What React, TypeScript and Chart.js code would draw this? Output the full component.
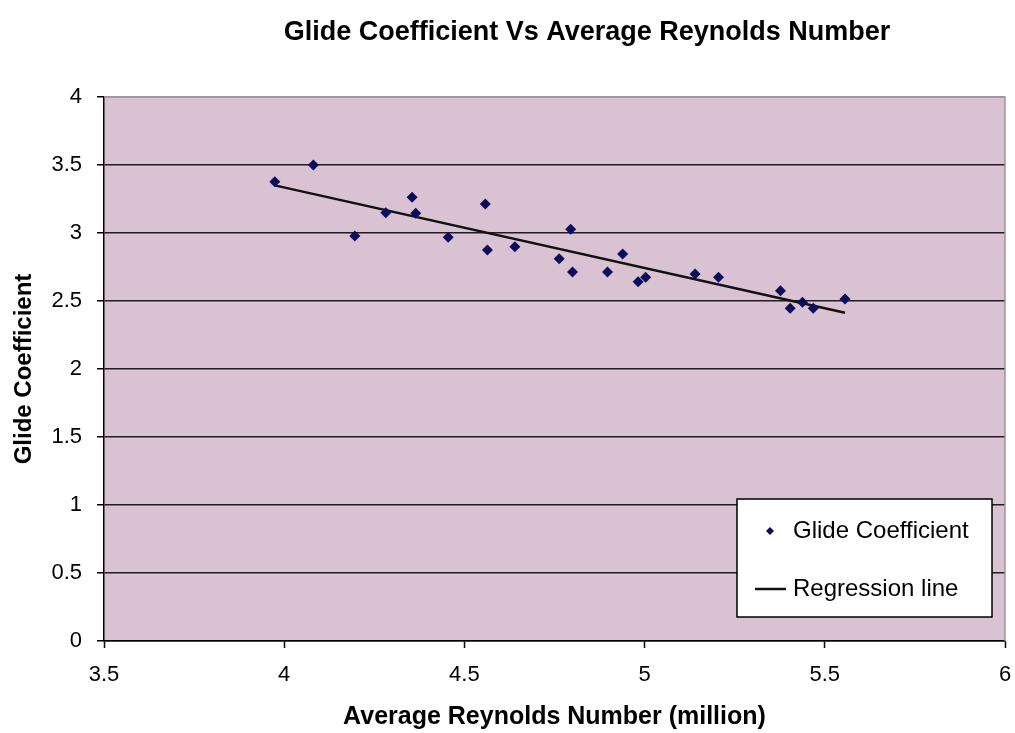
import React, { useEffect, useRef } from "react";
import { Chart, registerables } from "chart.js";

Chart.register(...registerables);

// Measured glide runs: average Reynolds number (million) and glide coefficient
const reynoldsMillion = [
  3.974, 4.081, 4.196, 4.282, 4.355, 4.365, 4.455, 4.558, 4.564, 4.64, 4.763, 4.795,
  4.8, 4.897, 4.939, 4.982, 5.003, 5.14, 5.205, 5.377, 5.404, 5.438, 5.468, 5.556,
];
const glideCoefficient = [
  3.377, 3.5, 2.978, 3.149, 3.262, 3.145, 2.968, 3.213, 2.875, 2.899, 2.811, 3.027,
  2.713, 2.713, 2.846, 2.642, 2.674, 2.699, 2.674, 2.576, 2.446, 2.49, 2.446, 2.515,
];

const xTicks = [3.5, 4, 4.5, 5, 5.5, 6];
const yTicks = [0, 0.5, 1, 1.5, 2, 2.5, 3, 3.5, 4];

const chartTitle = "Glide Coefficient Vs Average Reynolds Number";
const xTitle = "Average Reynolds Number (million)";
const yTitle = "Glide Coefficient";
const pointLabel = "Glide Coefficient";
const lineLabel = "Regression line";

const FONT = "'Liberation Sans', Arial, sans-serif";
const POINT_COLOR = "#0d0d5c";
const LINE_COLOR = "#111111";
const PLOT_FILL = "#d9c2d1";
const GRID_DARK = "#241b20";
const BORDER_GREY = "#9c979a";

// Least-squares fit of glide coefficient against Reynolds number
function regressionEnds(xs: number[], ys: number[]) {
  const n = xs.length;
  const mx = xs.reduce((s, v) => s + v, 0) / n;
  const my = ys.reduce((s, v) => s + v, 0) / n;
  let sxy = 0;
  let sxx = 0;
  for (let i = 0; i < n; i++) {
    sxy += (xs[i] - mx) * (ys[i] - my);
    sxx += (xs[i] - mx) * (xs[i] - mx);
  }
  const slope = sxy / sxx;
  const icpt = my - slope * mx;
  const x0 = Math.min(...xs);
  const x1 = Math.max(...xs);
  return [
    { x: x0, y: icpt + slope * x0 },
    { x: x1, y: icpt + slope * x1 },
  ];
}

const plotDecor = {
  id: "plotDecor",
  beforeDraw(chart: any) {
    const { ctx, chartArea: a } = chart;
    ctx.save();
    ctx.fillStyle = "#ffffff";
    ctx.fillRect(0, 0, chart.width, chart.height);
    ctx.fillStyle = PLOT_FILL;
    ctx.fillRect(a.left, a.top, a.right - a.left, a.bottom - a.top);
    ctx.restore();
  },
  beforeDatasetsDraw(chart: any) {
    const { ctx, chartArea: a } = chart;
    ctx.save();
    ctx.strokeStyle = BORDER_GREY;
    ctx.lineWidth = 1.5;
    ctx.beginPath();
    ctx.moveTo(a.left, a.top);
    ctx.lineTo(a.right, a.top);
    ctx.lineTo(a.right, a.bottom);
    ctx.stroke();
    ctx.restore();
  },
  afterDraw(chart: any) {
    const { ctx } = chart;
    ctx.save();
    // chart heading
    ctx.fillStyle = "#000";
    ctx.font = `bold 27px ${FONT}`;
    ctx.textAlign = "center";
    ctx.textBaseline = "middle";
    ctx.fillText(chartTitle, 587, 33);

    // legend box inside the plot
    const bx = 737;
    const by = 499;
    const bw = 255;
    const bh = 118;
    ctx.fillStyle = "#ffffff";
    ctx.fillRect(bx, by, bw, bh);
    ctx.strokeStyle = "#000";
    ctx.lineWidth = 1.5;
    ctx.strokeRect(bx, by, bw, bh);

    const ds0 = chart.data.datasets[0];
    const ds1 = chart.data.datasets[1];
    const r1 = by + 32;
    const r2 = by + 90;
    ctx.fillStyle = POINT_COLOR;
    ctx.beginPath();
    ctx.moveTo(770, r1 - 4);
    ctx.lineTo(774, r1);
    ctx.lineTo(770, r1 + 4);
    ctx.lineTo(766, r1);
    ctx.closePath();
    ctx.fill();
    ctx.strokeStyle = LINE_COLOR;
    ctx.lineWidth = 2.5;
    ctx.beginPath();
    ctx.moveTo(755, r2);
    ctx.lineTo(786, r2);
    ctx.stroke();

    ctx.fillStyle = "#000";
    ctx.font = `24px ${FONT}`;
    ctx.textAlign = "left";
    ctx.fillText(ds0.label, 793, r1);
    ctx.fillText(ds1.label, 793, r2);
    ctx.restore();
  },
};

export default function App() {
  const canvasRef = useRef<HTMLCanvasElement | null>(null);

  useEffect(() => {
    const canvas = canvasRef.current;
    if (!canvas) return;
    const points = reynoldsMillion.map((x, i) => ({ x, y: glideCoefficient[i] }));
    const fit = regressionEnds(reynoldsMillion, glideCoefficient);

    const chart = new Chart(canvas, {
      type: "scatter",
      data: {
        datasets: [
          {
            label: pointLabel,
            data: points,
            pointStyle: "rectRot",
            pointRadius: 5.5,
            pointBackgroundColor: POINT_COLOR,
            pointBorderColor: POINT_COLOR,
            pointBorderWidth: 0,
            showLine: false,
            order: 1,
          },
          {
            type: "line",
            label: lineLabel,
            data: fit,
            borderColor: LINE_COLOR,
            borderWidth: 2.5,
            pointRadius: 0,
            fill: false,
            order: 2,
          },
        ],
      } as any,
      options: {
        animation: false,
        responsive: true,
        maintainAspectRatio: false,
        layout: { padding: { top: 97, right: 10, left: 0, bottom: 0 } },
        plugins: {
          legend: { display: false },
          title: { display: false },
          tooltip: { enabled: false },
        },
        scales: {
          x: {
            type: "linear",
            min: 3.5,
            max: 6,
            afterBuildTicks: (scale: any) => {
              scale.ticks = xTicks.map((v) => ({ value: v }));
            },
            afterFit: (scale: any) => {
              scale.height = 92;
              scale.paddingLeft = 0;
              scale.paddingRight = 0;
            },
            ticks: {
              color: "#000",
              font: { family: FONT, size: 22 },
              padding: 14,
              callback: (v: any) => String(v),
            },
            grid: {
              drawOnChartArea: false,
              drawTicks: true,
              tickLength: 7,
              tickColor: "#000",
              tickWidth: 1.5,
            },
            border: { color: "#000", width: 1.5 },
            title: {
              display: true,
              text: xTitle,
              color: "#000",
              font: { family: FONT, size: 25, weight: "bold" },
              padding: { top: 0, bottom: 1 },
            },
          },
          y: {
            type: "linear",
            min: 0,
            max: 4,
            afterBuildTicks: (scale: any) => {
              scale.ticks = yTicks.map((v) => ({ value: v }));
            },
            afterFit: (scale: any) => {
              scale.width = 104;
              scale.paddingTop = 0;
              scale.paddingBottom = 0;
            },
            ticks: {
              color: "#000",
              font: { family: FONT, size: 22 },
              padding: 15,
              callback: (v: any) => String(v),
            },
            grid: {
              color: (c: any) => (c.tick && c.tick.value === 4 ? BORDER_GREY : GRID_DARK),
              lineWidth: 1.5,
              drawTicks: true,
              tickLength: 7,
              tickColor: "#000",
              tickWidth: 1.5,
            },
            border: { color: "#000", width: 1.5 },
            title: {
              display: true,
              text: yTitle,
              color: "#000",
              font: { family: FONT, size: 24, weight: "bold" },
              padding: { top: 10, bottom: 0 },
            },
          },
        },
      },
      plugins: [plotDecor],
    });

    return () => chart.destroy();
  }, []);

  return (
    <div style={{ position: "fixed", left: 0, top: 0, width: 1015, height: 733, background: "#fff" }}>
      <canvas ref={canvasRef} />
    </div>
  );
}
